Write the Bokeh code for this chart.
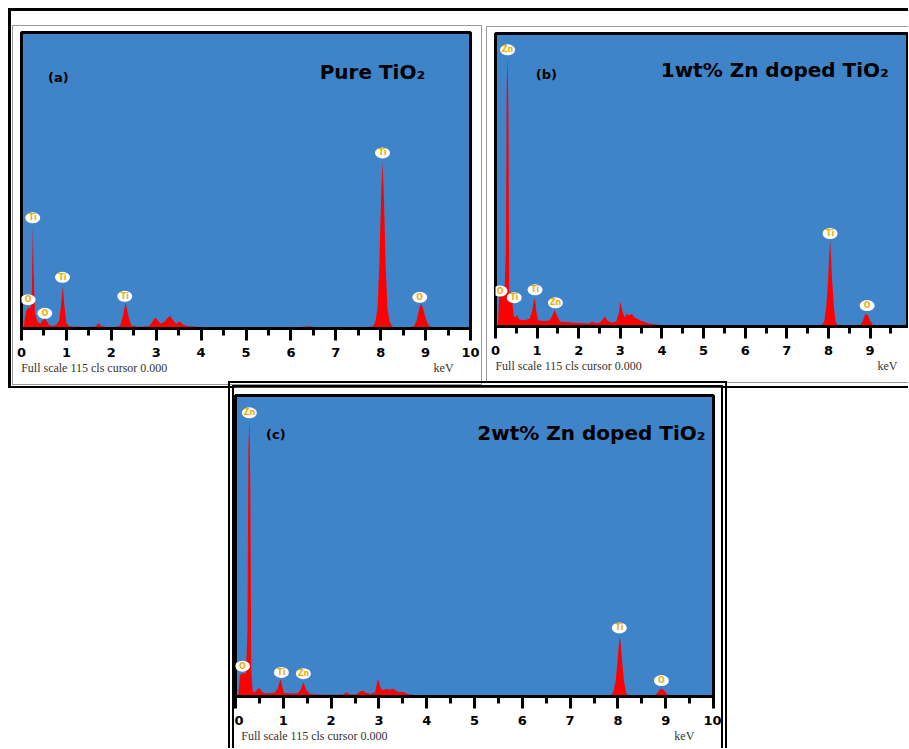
from bokeh.plotting import figure
from bokeh.layouts import row, column
from bokeh.models import Range1d, FixedTicker, LinearAxis
from bokeh.core.properties import value
from bokeh.embed import file_html
from bokeh.resources import INLINE

# ---------------- data ----------------
TICKS = [0, 1, 2, 3, 4, 5, 6, 7, 8, 9, 10]
MINOR = [0.5, 1.5, 2.5, 3.5, 4.5, 5.5, 6.5, 7.5, 8.5, 9.5]
FULL_SCALE = 115

# (a) pure TiO2 spectrum: energy (keV) and counts
A_KEV = [0.05, 0.08, 0.12, 0.16, 0.20, 0.23, 0.25, 0.27, 0.30, 0.33, 0.36, 0.42, 0.47, 0.52, 0.57,
         0.62, 0.70, 0.78, 0.84, 0.88, 0.92, 0.96, 1.00, 1.05, 1.15, 1.30, 1.50, 1.65, 1.72, 1.78,
         1.90, 2.10, 2.20, 2.26, 2.32, 2.38, 2.44, 2.55, 2.70, 2.85, 2.93, 2.98, 3.04, 3.10, 3.18,
         3.25, 3.31, 3.38, 3.45, 3.52, 3.60, 3.70, 3.85, 4.00, 4.50, 5.00, 5.50, 6.00, 6.25, 6.40,
         6.55, 7.00, 7.50, 7.82, 7.88, 7.93, 7.97, 8.01, 8.04, 8.07, 8.11, 8.15, 8.20, 8.26, 8.40,
         8.60, 8.74, 8.80, 8.86, 8.90, 8.95, 9.00, 9.06, 9.12, 9.30, 9.60, 10.0]
A_CTS = [0.5, 5, 7.5, 8.2, 7.8, 14, 40, 22, 6, 4, 2.5, 1.8, 3.2, 3.8, 2.6,
         1.3, 1.0, 1.5, 3, 9, 16.5, 8, 2, 1, 0.8, 0.7, 0.6, 0.8, 2, 1,
         0.6, 0.6, 1.2, 5, 10, 5, 1.2, 0.8, 0.7, 1, 3, 4.3, 3, 1.8, 2.5,
         4, 5, 3, 1.8, 2.8, 1.5, 1, 0.8, 0.5, 0.4, 0.4, 0.3, 0.4, 0.7, 0.9,
         0.5, 0.4, 0.4, 0.8, 2.5, 8, 25, 52, 65, 52, 25, 8, 2.5, 0.8, 0.4,
         0.4, 0.8, 3, 8, 9.7, 7.5, 4, 1.5, 0.6, 0.3, 0.3, 0.3]
A_LAB_EL = ["O", "Ti", "O", "Ti", "Ti", "Ti", "O"]
A_LAB_KEV = [0.147, 0.25, 0.52, 0.913, 2.30, 8.04, 8.87]
A_LAB_CTS = [11.2, 43.0, 5.9, 19.9, 12.5, 68.2, 12.1]

# (b) 1 wt% Zn doped TiO2
B_KEV = [0.06, 0.09, 0.13, 0.18, 0.22, 0.25, 0.27, 0.29, 0.31, 0.33, 0.36, 0.40, 0.44, 0.48, 0.52,
         0.56, 0.62, 0.72, 0.82, 0.88, 0.92, 0.95, 0.98, 1.02, 1.10, 1.20, 1.30, 1.36, 1.42, 1.48,
         1.55, 1.70, 1.90, 2.10, 2.25, 2.32, 2.40, 2.50, 2.58, 2.63, 2.68, 2.78, 2.90, 2.96, 3.00,
         3.05, 3.10, 3.15, 3.20, 3.24, 3.28, 3.34, 3.40, 3.47, 3.55, 3.65, 3.78, 3.95, 4.20, 4.60,
         5.00, 5.50, 6.00, 6.40, 6.50, 6.60, 7.00, 7.50, 7.84, 7.90, 7.95, 7.99, 8.02, 8.04, 8.06,
         8.09, 8.13, 8.17, 8.22, 8.40, 8.60, 8.76, 8.82, 8.87, 8.91, 8.96, 9.01, 9.08, 9.30, 9.90]
B_CTS = [1, 12, 14, 14.5, 15, 30, 95, 106, 85, 14, 10.5, 10, 4, 3.5, 4.5,
         3, 2.5, 2.6, 3, 6, 10, 11, 6, 2.5, 2.3, 2.2, 2.4, 4, 6.5, 4,
         2, 1.8, 1.5, 1.3, 1.2, 2, 1.4, 1.5, 2.8, 4, 2.5, 1.6, 2, 5, 9.7,
         6, 3.5, 5, 4.3, 4.6, 5, 3.5, 3, 2.5, 2, 1.4, 1, 0.6, 0.4, 0.3,
         0.3, 0.3, 0.3, 0.3, 0.6, 0.3, 0.3, 0.3, 0.5, 2, 8, 18, 28, 34, 28,
         18, 8, 2, 0.5, 0.3, 0.3, 0.5, 2, 4.2, 5, 4, 2, 0.5, 0.3, 0.3]
B_LAB_EL = ["Zn", "O", "Ti", "Ti", "Zn", "Ti", "O"]
B_LAB_KEV = [0.29, 0.11, 0.45, 0.95, 1.44, 8.04, 8.93]
B_LAB_CTS = [108.6, 13.9, 11.3, 14.4, 9.3, 36.5, 8.2]

# (c) 2 wt% Zn doped TiO2
C_KEV = [0.06, 0.09, 0.13, 0.18, 0.22, 0.25, 0.27, 0.29, 0.31, 0.33, 0.36, 0.40, 0.45, 0.50, 0.55,
         0.62, 0.72, 0.82, 0.88, 0.92, 0.95, 0.98, 1.02, 1.10, 1.20, 1.30, 1.36, 1.42, 1.48, 1.56,
         1.70, 1.90, 2.10, 2.25, 2.33, 2.40, 2.52, 2.60, 2.65, 2.72, 2.82, 2.92, 2.98, 3.04, 3.10,
         3.15, 3.20, 3.25, 3.30, 3.36, 3.42, 3.50, 3.56, 3.65, 3.80, 4.00, 4.50, 5.00, 5.50, 6.00,
         6.50, 7.00, 7.50, 7.84, 7.90, 7.95, 7.99, 8.02, 8.04, 8.06, 8.09, 8.13, 8.17, 8.22, 8.40,
         8.60, 8.76, 8.82, 8.87, 8.91, 8.96, 9.01, 9.08, 9.30, 10.0]
C_CTS = [0.5, 8, 8.8, 8.8, 9, 25, 95, 106, 80, 10, 2, 1.6, 2.5, 3.3, 1.8,
         1.1, 1.2, 1.5, 3, 5.5, 6.5, 3.5, 1.3, 1.2, 1.1, 1.2, 2.5, 5.4, 2.5, 1,
         0.8, 0.7, 0.7, 0.8, 1.5, 0.8, 0.8, 1.8, 2.3, 1.5, 1, 1.5, 6.9, 3, 2.4,
         3, 2.6, 2.8, 3, 2.2, 1.6, 1.8, 1.2, 0.8, 0.5, 0.3, 0.3, 0.3, 0.3, 0.3,
         0.3, 0.3, 0.3, 0.4, 1.5, 5.5, 13, 20, 23.3, 20, 13, 5.5, 1.5, 0.4, 0.3,
         0.3, 0.4, 1.2, 2.5, 3, 2.5, 1.2, 0.4, 0.3, 0.3]
C_LAB_EL = ["Zn", "O", "Ti", "Zn", "Ti", "O"]
C_LAB_KEV = [0.29, 0.146, 0.96, 1.42, 8.03, 8.91]
C_LAB_CTS = [108.4, 11.6, 9.2, 8.7, 26.2, 6.1]

TITLES = ["Pure TiO\u2082", "1wt% Zn doped TiO\u2082", "2wt% Zn doped TiO\u2082"]
TAGS = ["(a)", "(b)", "(c)"]
FOOTER = "Full scale 115 cls cursor 0.000"
UNIT = "keV"

BLUE = "#3f84c9"
LABEL_TEXT = "#f2ab00"


def panel(w, h, borders, x_end, kev, cts, lab_el, lab_kev, lab_cts,
          title, tag, title_pos, tag_pos, foot_x, unit_x, styles, margin):
    p = figure(width=w, height=h, x_range=Range1d(0, x_end), y_range=Range1d(0, FULL_SCALE),
               output_backend="svg", toolbar_location=None, y_axis_location=None,
               min_border_left=borders[0], min_border_right=borders[1],
               min_border_top=borders[2], min_border_bottom=borders[3],
               background_fill_color=BLUE, border_fill_color="white",
               outline_line_color="black", outline_line_width=3,
               styles=styles, margin=margin)
    p.grid.visible = False
    ax = p.xaxis[0]
    ax.ticker = FixedTicker(ticks=TICKS, minor_ticks=MINOR)
    ax.axis_line_width = 3
    ax.axis_line_color = "black"
    ax.major_tick_line_width = 3
    ax.minor_tick_line_width = 3
    ax.major_tick_in = 0
    ax.major_tick_out = 12
    ax.minor_tick_in = 0
    ax.minor_tick_out = 7
    ax.major_label_text_font = "DejaVu Sans"
    ax.major_label_text_font_style = "bold"
    ax.major_label_text_font_size = "13px"
    ax.major_label_text_color = "black"
    ax.major_label_standoff = 7

    # second, line-less axis carrying the instrument footer and the unit
    # (tick positions are the centres of the two texts)
    foot = LinearAxis(ticker=FixedTicker(ticks=[foot_x, unit_x], minor_ticks=[]),
                      major_label_overrides={foot_x: FOOTER, unit_x: UNIT},
                      axis_line_color=None, major_tick_line_color=None,
                      minor_tick_line_color=None, major_tick_in=0, major_tick_out=0,
                      minor_tick_in=0, minor_tick_out=0, major_label_standoff=1,
                      major_label_text_font="Liberation Serif",
                      major_label_text_font_size="12px", major_label_text_color="#333333",
                      major_label_text_font_style="normal")
    p.add_layout(foot, "below")

    p.varea(x=kev, y1=0, y2=cts, fill_color="#ff0000")

    p.ellipse(x=lab_kev, y=lab_cts, width=15, height=11, width_units="screen",
              height_units="screen", fill_color="white", line_color=None)
    p.text(x=lab_kev, y=lab_cts, text=lab_el, text_font=value("DejaVu Sans"),
           text_font_style="bold", text_font_size="8px", text_color=LABEL_TEXT,
           text_align="center", text_baseline="middle")

    p.text(x=[title_pos[0]], y=[title_pos[1]], text=[title], text_font=value("DejaVu Sans"),
           text_font_style="bold", text_font_size="20px", text_color="black",
           text_align="left", text_baseline="middle")
    p.text(x=[tag_pos[0]], y=[tag_pos[1]], text=[tag], text_font=value("DejaVu Sans"),
           text_font_style="bold", text_font_size="13px", text_color="black",
           text_align="left", text_baseline="middle")
    return p


GREY = "1px solid #9a9a9a"

# figure sizes include their CSS borders (border-box)
pa = panel(470, 360, (8, 13, 5, 58), 10, A_KEV, A_CTS, A_LAB_EL, A_LAB_KEV, A_LAB_CTS,
           TITLES[0], TAGS[0], (6.64, 99.8), (0.59, 97.5), 1.62, 9.40,
           {"border": GREY}, (14, 2, 1, 1))

pb = panel(422, 357, (8, 2, 6, 54), 9.90, B_KEV, B_CTS, B_LAB_EL, B_LAB_KEV, B_LAB_CTS,
           TITLES[1], TAGS[1], (3.97, 100.6), (0.97, 99.0), 1.755, 9.42,
           {"border-top": GREY, "border-left": GREY, "border-bottom": GREY}, (15, 0, 0, 2))

pc = panel(499, 367, (1, 20, 8, 58), 10, C_KEV, C_CTS, C_LAB_EL, C_LAB_KEV, C_LAB_CTS,
           TITLES[2], TAGS[2], (5.06, 100.5), (0.64, 100.0), 1.65, 9.39,
           {"border-top": "6px double black", "border-left": "6px double black",
            "border-right": "6px double black"}, (-7, 0, 0, 228))

top = row(pa, pb, margin=(8, 0, 0, 8),
          styles={"border-top": "3px solid black", "border-left": "3px solid black",
                  "border-bottom": "2px solid black"})
layout = column(top, pc)

open("out.html", "w").write(file_html(layout, INLINE))
